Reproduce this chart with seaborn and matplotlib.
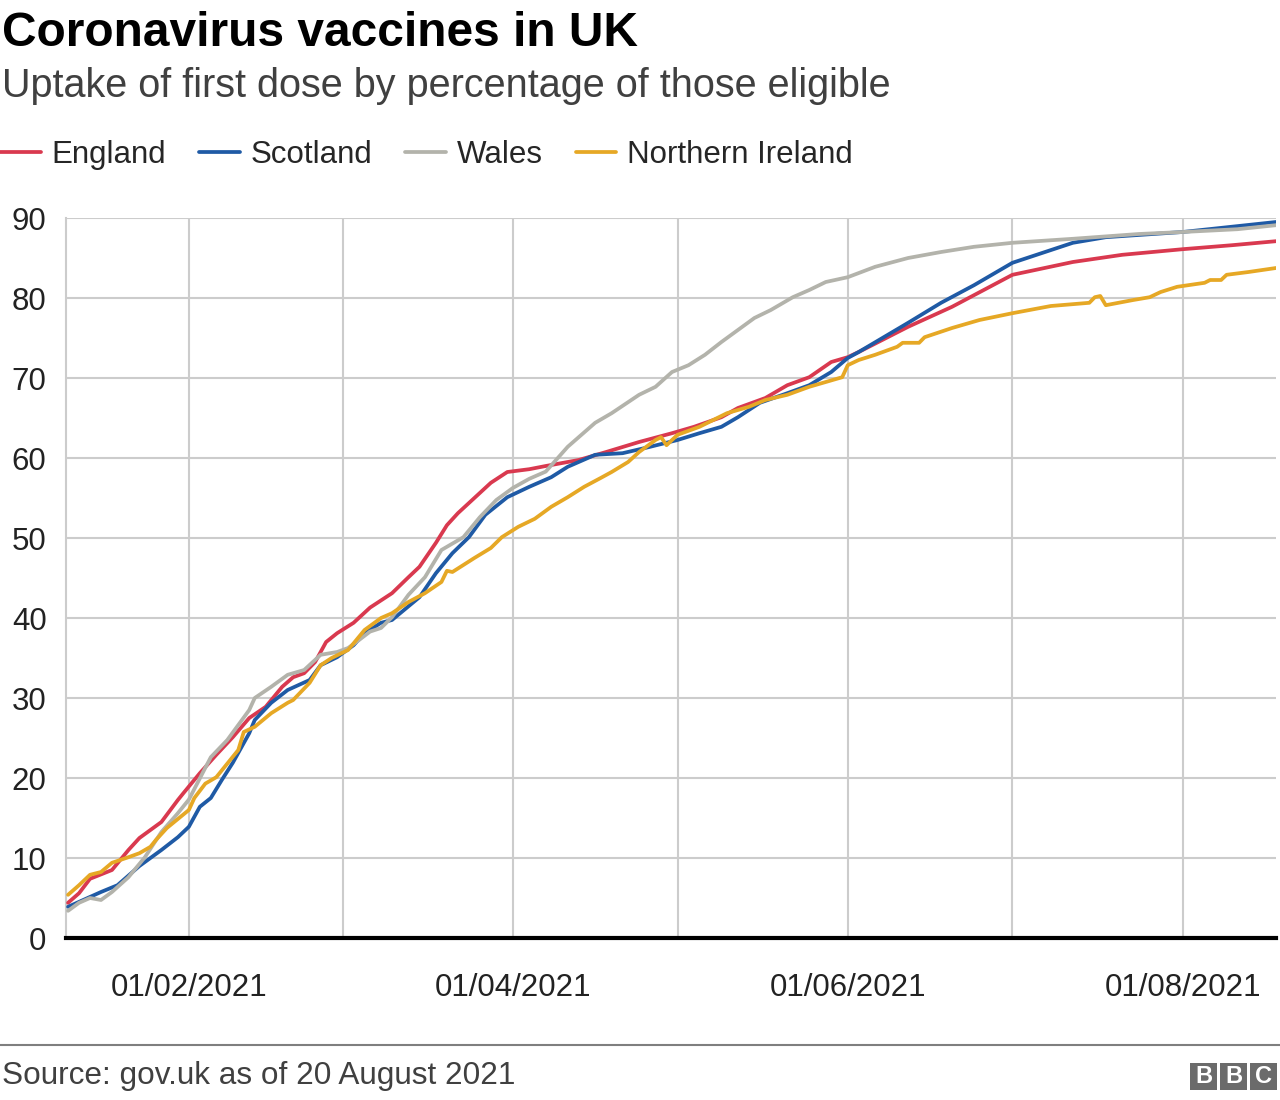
import matplotlib
matplotlib.use("Agg")
import matplotlib.pyplot as plt
from matplotlib.lines import Line2D
from matplotlib.patches import Rectangle
import seaborn as sns
import pandas as pd

# ---------------- data ----------------
nations = ["England", "Scotland", "Wales", "Northern Ireland"]
colors = ["#d9394f", "#1f5aa5", "#b3b3ab", "#e6a825"]

eng_dates = ["2021-01-10","2021-01-12","2021-01-14","2021-01-18","2021-01-21","2021-01-23","2021-01-27","2021-01-30","2021-01-31",
             "2021-02-03","2021-02-06","2021-02-09","2021-02-12","2021-02-15","2021-02-18","2021-02-20","2021-02-22","2021-02-24","2021-02-26","2021-02-28",
             "2021-03-03","2021-03-06","2021-03-10","2021-03-13","2021-03-15","2021-03-18","2021-03-20","2021-03-22","2021-03-25","2021-03-28","2021-03-31",
             "2021-04-04","2021-04-07","2021-04-13","2021-04-18","2021-04-24","2021-04-30","2021-05-04","2021-05-09","2021-05-12","2021-05-17","2021-05-21",
             "2021-05-25","2021-05-29","2021-06-01","2021-06-03","2021-06-12","2021-06-20","2021-07-01","2021-07-12","2021-07-21","2021-08-01","2021-08-10","2021-08-18"]
eng_vals = [4.4,5.6,7.4,8.5,11,12.5,14.5,17.25,18.1,
            20.6,22.9,25.1,27.5,28.9,31.4,32.6,33.1,34.5,37,38.1,
            39.4,41.3,43.1,45.1,46.4,49.4,51.6,53.1,55,56.9,58.25,
            58.6,59,59.75,60.75,62,63.1,63.9,65.1,66.25,67.5,69.1,
            70.1,72,72.6,73.25,76.4,78.9,82.9,84.5,85.4,86.1,86.6,87.1]

sco_dates = ["2021-01-10","2021-01-16","2021-01-19","2021-01-23","2021-01-27","2021-01-30","2021-02-01","2021-02-03","2021-02-05","2021-02-07",
             "2021-02-09","2021-02-12","2021-02-13","2021-02-16","2021-02-19","2021-02-23","2021-02-25","2021-02-28","2021-03-03","2021-03-05",
             "2021-03-08","2021-03-10","2021-03-15","2021-03-18","2021-03-21","2021-03-24","2021-03-27","2021-03-31","2021-04-04","2021-04-08",
             "2021-04-11","2021-04-16","2021-04-21","2021-04-26","2021-05-01","2021-05-05","2021-05-09","2021-05-12","2021-05-16","2021-05-21",
             "2021-05-25","2021-05-29","2021-06-01","2021-06-03","2021-06-12","2021-06-18","2021-06-24","2021-07-01","2021-07-12","2021-07-18",
             "2021-08-01","2021-08-18"]
sco_vals = [3.9,5.75,6.6,9,11,12.6,13.9,16.4,17.5,19.75,
            21.9,25.6,27.25,29.4,31,32.25,34.1,35.1,36.6,38.1,
            39.4,39.75,42.6,45.6,48.1,50.1,52.9,55.1,56.4,57.6,
            58.9,60.4,60.6,61.4,62.25,63.1,63.9,65.1,66.9,68.1,
            69.1,70.75,72.5,73.25,76.9,79.4,81.6,84.4,86.9,87.6,
            88.25,89.5]

wal_dates = ["2021-01-10","2021-01-12","2021-01-14","2021-01-16","2021-01-18","2021-01-21","2021-01-24","2021-01-27","2021-01-30","2021-02-01",
             "2021-02-05","2021-02-08","2021-02-12","2021-02-13","2021-02-16","2021-02-19","2021-02-22","2021-02-25","2021-02-28","2021-03-02",
             "2021-03-04","2021-03-06","2021-03-08","2021-03-10","2021-03-13","2021-03-16","2021-03-19","2021-03-23","2021-03-26","2021-03-29",
             "2021-04-01","2021-04-04","2021-04-07","2021-04-11","2021-04-16","2021-04-19","2021-04-24","2021-04-27","2021-04-30","2021-05-03",
             "2021-05-06","2021-05-09","2021-05-12","2021-05-15","2021-05-18","2021-05-22","2021-05-25","2021-05-28","2021-06-01","2021-06-06",
             "2021-06-12","2021-06-18","2021-06-24","2021-07-01","2021-07-12","2021-07-24","2021-08-01","2021-08-11","2021-08-18"]
wal_vals = [3.4,4.4,5,4.75,5.75,7.6,10.1,13.25,15.6,17.3,
            22.6,24.75,28.5,30,31.4,32.9,33.5,35.4,35.75,36.25,
            37.25,38.3,38.75,40.1,42.9,45.1,48.5,50.1,52.6,54.75,
            56.25,57.4,58.3,61.4,64.4,65.6,67.9,68.9,70.75,71.6,
            72.9,74.5,76,77.5,78.5,80.1,81,82,82.6,83.9,
            85,85.75,86.4,86.9,87.4,88,88.25,88.6,89.1]

ni_dates = ["2021-01-10","2021-01-12","2021-01-14","2021-01-16","2021-01-18","2021-01-21","2021-01-23","2021-01-25","2021-01-26","2021-01-28",
            "2021-02-01","2021-02-02","2021-02-04","2021-02-06","2021-02-10","2021-02-11","2021-02-13","2021-02-16","2021-02-19","2021-02-20",
            "2021-02-23","2021-02-25","2021-02-27","2021-03-02","2021-03-05","2021-03-08","2021-03-10","2021-03-13","2021-03-16","2021-03-19",
            "2021-03-20","2021-03-21","2021-03-25","2021-03-28","2021-03-30","2021-04-02","2021-04-05","2021-04-08","2021-04-11","2021-04-14",
            "2021-04-17","2021-04-19","2021-04-22","2021-04-24","2021-04-27","2021-04-28","2021-04-29","2021-04-30","2021-05-01","2021-05-05",
            "2021-05-10","2021-05-14","2021-05-17","2021-05-21","2021-05-25","2021-05-28","2021-05-31","2021-06-01","2021-06-03","2021-06-06",
            "2021-06-10","2021-06-11","2021-06-14","2021-06-15","2021-06-20","2021-06-25","2021-07-01","2021-07-08","2021-07-15","2021-07-16",
            "2021-07-17","2021-07-18","2021-07-23","2021-07-26","2021-07-28","2021-07-31","2021-08-05","2021-08-06","2021-08-08","2021-08-09",
            "2021-08-13","2021-08-18"]
ni_vals = [5.4,6.6,7.9,8.25,9.4,10.1,10.6,11.4,12.25,13.75,
           16,17.5,19.3,20.1,23.5,25.75,26.4,28.1,29.4,29.75,
           31.9,34.1,35,36,38.5,40,40.6,42,43.1,44.5,
           45.9,45.75,47.5,48.75,50.1,51.4,52.4,53.9,55.1,56.4,
           57.5,58.25,59.5,60.75,62.25,62.6,61.6,62.25,62.9,63.9,
           65.6,66.4,67.25,67.9,68.9,69.5,70.1,71.6,72.25,72.9,
           73.9,74.4,74.4,75.1,76.25,77.25,78.1,79,79.4,80.1,
           80.25,79.1,79.75,80.1,80.75,81.4,81.9,82.25,82.25,82.9,
           83.25,83.75]

y_ticks = [0, 10, 20, 30, 40, 50, 60, 70, 80, 90]
month_ticks = ["2021-02-01", "2021-03-01", "2021-04-01", "2021-05-01", "2021-06-01", "2021-07-01", "2021-08-01"]
month_labels = ["01/02/2021", "", "01/04/2021", "", "01/06/2021", "", "01/08/2021"]

title = "Coronavirus vaccines in UK"
subtitle = "Uptake of first dose by percentage of those eligible"
source = "Source: gov.uk as of 20 August 2021"

# ---------------- build table ----------------
frames = []
for name, d, v in [("England", eng_dates, eng_vals), ("Scotland", sco_dates, sco_vals),
                   ("Wales", wal_dates, wal_vals), ("Northern Ireland", ni_dates, ni_vals)]:
    frames.append(pd.DataFrame({"date": pd.to_datetime(d), "value": v, "nation": name}))
df = pd.concat(frames, ignore_index=True)

# ---------------- style ----------------
sns.set_style("white")
plt.rcParams["font.family"] = ["Liberation Sans", "DejaVu Sans"]

W, H = 1280, 1100
fig = plt.figure(figsize=(W / 100, H / 100), dpi=100)
ax = fig.add_axes([66 / W, 1 - 938 / H, 1210 / W, 720 / H])

grid_c = "#cccccc"
sns.lineplot(data=df, x="date", y="value", hue="nation", hue_order=nations,
             palette=dict(zip(nations, colors)), linewidth=2.7, estimator=None,
             legend=False, ax=ax, zorder=3)

ax.set_xlim(pd.Timestamp("2021-01-09 15:00"), pd.Timestamp("2021-08-18 00:00"))
ax.set_ylim(0, 90)
ax.set_yticks(y_ticks)
ax.set_xticks(pd.to_datetime(month_ticks))
ax.set_xticklabels(month_labels)
ax.set_xlabel("")
ax.set_ylabel("")
ax.grid(True, color=grid_c, linewidth=1.5)
ax.set_axisbelow(True)
ax.tick_params(axis="both", length=0, labelsize=22.5, colors="#222222")
ax.tick_params(axis="x", pad=25)
ax.tick_params(axis="y", pad=14)
for s in ["top", "right"]:
    ax.spines[s].set_visible(False)
ax.spines["left"].set_color(grid_c)
ax.spines["left"].set_linewidth(1.5)
ax.spines["bottom"].set_color("black")
ax.spines["bottom"].set_linewidth(3)
ax.spines["bottom"].set_zorder(5)

# ---------------- header ----------------
fig.text(2 / W, 1 - 33 / H, title, fontsize=34.5, fontweight="bold", color="black", va="center", ha="left")
fig.text(2 / W, 1 - 86 / H, subtitle, fontsize=28.5, color="#404040", va="center", ha="left")

handles = [Line2D([0], [0], color=c, lw=2.7) for c in colors]
fig.legend(handles, nations, loc="center left", bbox_to_anchor=(0, 1 - 155 / H), ncol=4,
           frameon=False, fontsize=22.5, handlelength=1.3, handletextpad=0.35,
           columnspacing=1.05, borderaxespad=0, borderpad=0)

# ---------------- footer ----------------
fig.add_artist(Line2D([0, 1], [1 - 1045 / H, 1 - 1045 / H], color="#7f7f7f", lw=1.5, transform=fig.transFigure))
fig.text(2 / W, 1 - 1076 / H, source, fontsize=22.7, color="#404040", va="center", ha="left")

box_w, box_h, gap = 27, 27, 3
x0 = 1190
for i, letter in enumerate("BBC"):
    bx = x0 + i * (box_w + gap)
    fig.add_artist(Rectangle((bx / W, 1 - 1090 / H), box_w / W, box_h / H, transform=fig.transFigure,
                             facecolor="#6b6b6b", edgecolor="none"))
    fig.text((bx + box_w / 2) / W, 1 - 1076.5 / H, letter, fontsize=17, fontweight="bold",
             color="white", ha="center", va="center")

fig.savefig("out.png", dpi=100)
